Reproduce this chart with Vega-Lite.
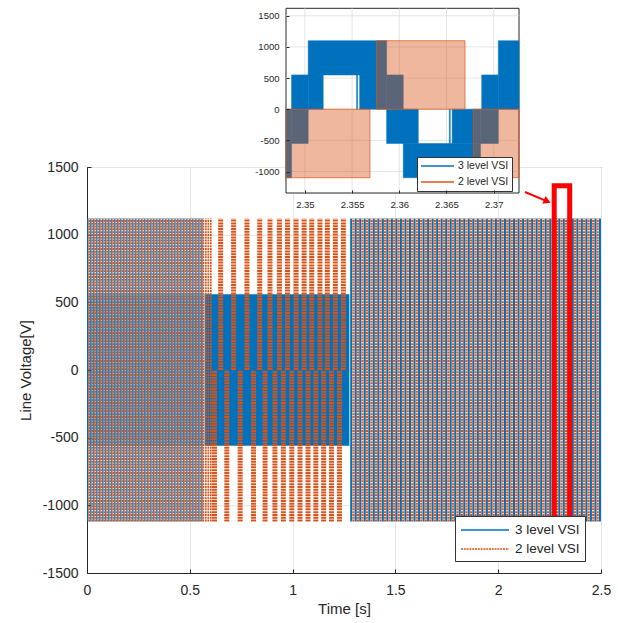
{
  "$schema": "https://vega.github.io/schema/vega-lite/v6.json",
  "width": 514,
  "height": 406,
  "autosize": {"type": "none"},
  "padding": {"left": 87, "top": 167, "right": 17, "bottom": 50},
  "background": "white",
  "config": {
    "font": "Liberation Sans",
    "view": {"stroke": "#262626", "strokeWidth": 1},
    "axis": {"titleFontWeight": "normal", "labelColor": "#262626", "titleColor": "#262626", "domainColor": "#262626", "tickColor": "#262626", "labelOverlap": false, "labelFlush": false}
  },
  "datasets": {
    "aB": [{"t":0.004},{"t":0.0186},{"t":0.0332},{"t":0.0478},{"t":0.0624},{"t":0.077},{"t":0.0916},{"t":0.1062},{"t":0.1208},{"t":0.1354},{"t":0.15},{"t":0.1646},{"t":0.1792},{"t":0.1938},{"t":0.2084},{"t":0.223},{"t":0.2376},{"t":0.2522},{"t":0.2668},{"t":0.2814},{"t":0.296},{"t":0.3106},{"t":0.3252},{"t":0.3398},{"t":0.3544},{"t":0.369},{"t":0.3836},{"t":0.3982},{"t":0.4128},{"t":0.4274},{"t":0.442},{"t":0.4566},{"t":0.4712},{"t":0.4858},{"t":0.5004},{"t":0.515},{"t":0.5296},{"t":0.5442},{"t":0.5588}],
    "aO": [{"t":0.0113},{"t":0.0259},{"t":0.0405},{"t":0.0551},{"t":0.0697},{"t":0.0843},{"t":0.0989},{"t":0.1135},{"t":0.1281},{"t":0.1427},{"t":0.1573},{"t":0.1719},{"t":0.1865},{"t":0.2011},{"t":0.2157},{"t":0.2303},{"t":0.2449},{"t":0.2595},{"t":0.2741},{"t":0.2887},{"t":0.3033},{"t":0.3179},{"t":0.3325},{"t":0.3471},{"t":0.3617},{"t":0.3763},{"t":0.3909},{"t":0.4055},{"t":0.4201},{"t":0.4347},{"t":0.4493},{"t":0.4639},{"t":0.4785},{"t":0.4931},{"t":0.5077},{"t":0.5223},{"t":0.5369},{"t":0.5515},{"t":0.566},{"t":0.578},{"t":0.59},{"t":0.602}],
    "bandA": [{"t0":0.0,"t1":0.565,"lo":-560,"hi":560}],
    "band": [{"t0":0.572,"t1":1.276,"lo":-560,"hi":560}],
    "bO": [
      {"t":0.620,"lo":-1120,"hi":0},{"t":0.650,"lo":0,"hi":1120},{"t":0.680,"lo":-1120,"hi":0},{"t":0.713,"lo":0,"hi":1120},
      {"t":0.745,"lo":-1120,"hi":0},{"t":0.778,"lo":0,"hi":1120},{"t":0.810,"lo":-1120,"hi":0},{"t":0.840,"lo":0,"hi":1120},
      {"t":0.866,"lo":-1120,"hi":0},{"t":0.890,"lo":0,"hi":1120},{"t":0.914,"lo":-1120,"hi":0},{"t":0.936,"lo":0,"hi":1120},
      {"t":0.955,"lo":-1120,"hi":0},{"t":0.975,"lo":0,"hi":1120},{"t":0.996,"lo":-1120,"hi":0},{"t":1.017,"lo":0,"hi":1120},
      {"t":1.036,"lo":-1120,"hi":0},{"t":1.056,"lo":0,"hi":1120},{"t":1.075,"lo":-1120,"hi":0},{"t":1.093,"lo":0,"hi":1120},
      {"t":1.113,"lo":-1120,"hi":0},{"t":1.133,"lo":0,"hi":1120},{"t":1.151,"lo":-1120,"hi":0},{"t":1.169,"lo":0,"hi":1120},
      {"t":1.189,"lo":-1120,"hi":0},{"t":1.208,"lo":0,"hi":1120},{"t":1.228,"lo":-1120,"hi":0},{"t":1.247,"lo":0,"hi":1120}
    ],
    "cB": [{"t":1.285},{"t":1.307},{"t":1.329},{"t":1.351},{"t":1.373},{"t":1.395},{"t":1.417},{"t":1.439},{"t":1.461},{"t":1.483},{"t":1.505},{"t":1.527},{"t":1.549},{"t":1.571},{"t":1.593},{"t":1.615},{"t":1.637},{"t":1.659},{"t":1.681},{"t":1.703},{"t":1.725},{"t":1.747},{"t":1.769},{"t":1.791},{"t":1.813},{"t":1.835},{"t":1.857},{"t":1.879},{"t":1.901},{"t":1.923},{"t":1.945},{"t":1.967},{"t":1.989},{"t":2.011},{"t":2.033},{"t":2.055},{"t":2.077},{"t":2.099},{"t":2.121},{"t":2.143},{"t":2.165},{"t":2.187},{"t":2.209},{"t":2.231},{"t":2.253},{"t":2.275},{"t":2.297},{"t":2.319},{"t":2.341},{"t":2.363},{"t":2.385},{"t":2.407},{"t":2.429},{"t":2.451},{"t":2.473},{"t":2.495}],
    "cO": [{"t":1.296},{"t":1.318},{"t":1.34},{"t":1.362},{"t":1.384},{"t":1.406},{"t":1.428},{"t":1.45},{"t":1.472},{"t":1.494},{"t":1.516},{"t":1.538},{"t":1.56},{"t":1.582},{"t":1.604},{"t":1.626},{"t":1.648},{"t":1.67},{"t":1.692},{"t":1.714},{"t":1.736},{"t":1.758},{"t":1.78},{"t":1.802},{"t":1.824},{"t":1.846},{"t":1.868},{"t":1.89},{"t":1.912},{"t":1.934},{"t":1.956},{"t":1.978},{"t":2.0},{"t":2.022},{"t":2.044},{"t":2.066},{"t":2.088},{"t":2.11},{"t":2.132},{"t":2.154},{"t":2.176},{"t":2.198},{"t":2.22},{"t":2.242},{"t":2.264},{"t":2.286},{"t":2.308},{"t":2.33},{"t":2.352},{"t":2.374},{"t":2.396},{"t":2.418},{"t":2.44},{"t":2.462},{"t":2.484}],
    "box": [{"t0":2.2724,"t1":2.3478,"lo":-1385,"hi":1361}],
    "arrow": [{"t0":2.1304,"v0":1315,"t1":2.2388,"v1":1246}],
    "inB": [
      {"t0":2.3480,"t1":2.34859,"lo":-1100,"hi":0},
      {"t0":2.34859,"t1":2.35035,"lo":-550,"hi":0},
      {"t0":2.34859,"t1":2.35035,"lo":0,"hi":550},
      {"t0":2.35035,"t1":2.35866,"lo":550,"hi":1100},
      {"t0":2.35035,"t1":2.35194,"lo":0,"hi":550},
      {"t0":2.35548,"t1":2.35558,"lo":0,"hi":550},
      {"t0":2.3558,"t1":2.35866,"lo":0,"hi":550},
      {"t0":2.35866,"t1":2.36042,"lo":0,"hi":550},
      {"t0":2.35866,"t1":2.36201,"lo":-550,"hi":0},
      {"t0":2.36042,"t1":2.3686,"lo":-1100,"hi":-550},
      {"t0":2.3653,"t1":2.3654,"lo":-550,"hi":0},
      {"t0":2.3656,"t1":2.3686,"lo":-550,"hi":0},
      {"t0":2.3686,"t1":2.37049,"lo":-550,"hi":0},
      {"t0":2.36873,"t1":2.37049,"lo":0,"hi":550},
      {"t0":2.37049,"t1":2.37268,"lo":0,"hi":1100}
    ],
    "inO": [
      {"t0":2.3480,"t1":2.35689,"lo":-1100,"hi":0},
      {"t0":2.3576,"t1":2.36696,"lo":0,"hi":1100},
      {"t0":2.36784,"t1":2.37268,"lo":-1100,"hi":0}
    ],
    "gx": [{"g":2.35},{"g":2.355},{"g":2.36},{"g":2.365},{"g":2.37}],
    "gy": [{"g":-1000},{"g":-500},{"g":0},{"g":500},{"g":1000},{"g":1500}]
  },
  "layer": [
    {
      "layer": [
        {
          "data": {"name": "band"},
          "mark": {"type": "rect", "color": "#0072BD"},
          "encoding": {
            "x": {"field": "t0", "type": "quantitative", "scale": {"domain": [0, 2.5], "nice": false, "zero": false},
                  "axis": {"orient": "bottom", "title": "Time [s]", "values": [0, 0.5, 1, 1.5, 2, 2.5], "format": "~g", "grid": true, "gridColor": "#e6e6e6", "tickSize": -4, "labelPadding": 14, "labelFontSize": 14, "titleFontSize": 15, "titlePadding": 4}},
            "x2": {"field": "t1"},
            "y": {"field": "lo", "type": "quantitative", "scale": {"domain": [-1500, 1500], "nice": false, "zero": false},
                  "axis": {"orient": "left", "title": "Line Voltage[V]", "values": [-1500, -1000, -500, 0, 500, 1000, 1500], "labelExpr": "'' + datum.value", "grid": true, "gridColor": "#e6e6e6", "tickSize": -4, "labelPadding": 13, "labelFontSize": 14, "titleFontSize": 15, "titlePadding": 9}},
            "y2": {"field": "hi"}
          }
        },
        {
          "data": {"name": "bandA"},
          "mark": {"type": "rect", "color": "#0072BD", "opacity": 0.35},
          "encoding": {
            "x": {"field": "t0", "type": "quantitative"},
            "x2": {"field": "t1"},
            "y": {"field": "lo", "type": "quantitative"},
            "y2": {"field": "hi"}
          }
        },
        {
          "data": {"name": "aB"},
          "mark": {"type": "rule", "strokeWidth": 1.3},
          "encoding": {
            "x": {"field": "t", "type": "quantitative"},
            "y": {"datum": -1120, "type": "quantitative"},
            "y2": {"datum": 1120},
            "stroke": {"datum": "3 level VSI", "type": "nominal",
              "scale": {"domain": ["3 level VSI", "2 level VSI"], "range": ["#0072BD", "#D95319"]},
              "legend": {"orient": "none", "legendX": 368, "legendY": 349, "title": null, "symbolType": "M-1,0L5,0", "symbolSize": 256, "symbolStrokeWidth": 1.5, "labelOffset": 37, "labelFontSize": 13.5, "labelColor": "#262626", "padding": 5, "rowPadding": 3, "strokeColor": "#333333", "fillColor": "#ffffff", "cornerRadius": 0}},
            "strokeDash": {"datum": "3 level VSI", "type": "nominal",
              "scale": {"domain": ["3 level VSI", "2 level VSI"], "range": [[1, 0], [2, 0.8]]},
              "legend": {"orient": "none", "legendX": 368, "legendY": 349, "title": null, "symbolType": "M-1,0L5,0", "symbolSize": 256, "symbolStrokeWidth": 1.5, "labelOffset": 37, "labelFontSize": 13.5, "labelColor": "#262626", "padding": 5, "rowPadding": 3, "strokeColor": "#333333", "fillColor": "#ffffff", "cornerRadius": 0}}
          }
        },
        {
          "data": {"name": "cB"},
          "mark": {"type": "rule", "strokeWidth": 2},
          "encoding": {
            "x": {"field": "t", "type": "quantitative"},
            "y": {"datum": -1120, "type": "quantitative"},
            "y2": {"datum": 1120},
            "stroke": {"datum": "3 level VSI", "type": "nominal"},
            "strokeDash": {"datum": "3 level VSI", "type": "nominal"}
          }
        },
        {
          "data": {"name": "aO"},
          "mark": {"type": "rule", "strokeWidth": 1.7},
          "encoding": {
            "x": {"field": "t", "type": "quantitative"},
            "y": {"datum": -1120, "type": "quantitative"},
            "y2": {"datum": 1120},
            "stroke": {"datum": "2 level VSI", "type": "nominal"},
            "strokeDash": {"datum": "2 level VSI", "type": "nominal"}
          }
        },
        {
          "data": {"name": "bO"},
          "mark": {"type": "rule", "strokeWidth": 5},
          "encoding": {
            "x": {"field": "t", "type": "quantitative"},
            "y": {"field": "lo", "type": "quantitative"},
            "y2": {"field": "hi"},
            "stroke": {"datum": "2 level VSI", "type": "nominal"},
            "strokeDash": {"datum": "2 level VSI", "type": "nominal"}
          }
        },
        {
          "data": {"name": "cO"},
          "mark": {"type": "rule", "strokeWidth": 2.2},
          "encoding": {
            "x": {"field": "t", "type": "quantitative"},
            "y": {"datum": -1120, "type": "quantitative"},
            "y2": {"datum": 1120},
            "stroke": {"datum": "2 level VSI", "type": "nominal"},
            "strokeDash": {"datum": "2 level VSI", "type": "nominal"}
          }
        },
        {
          "data": {"name": "box"},
          "mark": {"type": "rect", "filled": false, "color": "#FF0000", "strokeWidth": 5},
          "encoding": {
            "x": {"field": "t0", "type": "quantitative"},
            "x2": {"field": "t1"},
            "y": {"field": "lo", "type": "quantitative"},
            "y2": {"field": "hi"}
          }
        },
        {
          "data": {"name": "arrow"},
          "mark": {"type": "rule", "color": "#FF0000", "strokeWidth": 2},
          "encoding": {
            "x": {"field": "t0", "type": "quantitative"},
            "x2": {"field": "t1"},
            "y": {"field": "v0", "type": "quantitative"},
            "y2": {"field": "v1"}
          }
        },
        {
          "data": {"name": "arrow"},
          "mark": {"type": "point", "shape": "triangle-right", "filled": true, "color": "#FF0000", "size": 70, "angle": 23, "opacity": 1},
          "encoding": {
            "x": {"field": "t1", "type": "quantitative"},
            "y": {"field": "v1", "type": "quantitative"}
          }
        }
      ]
    },
    {
      "layer": [
        {
          "data": {"values": [{}]},
          "mark": {"type": "rect", "fill": "#ffffff", "stroke": "#262626", "strokeWidth": 1},
          "encoding": {
            "x": {"datum": 2.348, "type": "quantitative", "scale": {"domain": [2.348, 2.37268], "range": [199, 432], "nice": false, "zero": false},
                  "axis": {"orient": "bottom", "offset": -380, "values": [2.35, 2.355, 2.36, 2.365, 2.37], "format": ".3~f", "title": null, "grid": false, "domain": false, "tickSize": -3, "labelPadding": 9, "labelFontSize": 9.5, "zindex": 1}},
            "x2": {"datum": 2.37268},
            "y": {"datum": -1345, "type": "quantitative", "scale": {"domain": [-1345, 1620], "range": [26, -158.7], "nice": false, "zero": false},
                  "axis": {"orient": "left", "offset": -199, "values": [-1000, -500, 0, 500, 1000, 1500], "labelExpr": "'' + datum.value", "title": null, "grid": false, "domain": false, "tickSize": -3, "labelPadding": 10, "labelFontSize": 9.5, "zindex": 1}},
            "y2": {"datum": 1620}
          }
        },
        {
          "data": {"name": "gx"},
          "mark": {"type": "rule", "color": "#dedede", "strokeWidth": 0.8},
          "encoding": {
            "x": {"field": "g", "type": "quantitative"},
            "y": {"datum": -1345, "type": "quantitative"},
            "y2": {"datum": 1620}
          }
        },
        {
          "data": {"name": "gy"},
          "mark": {"type": "rule", "color": "#dedede", "strokeWidth": 0.8},
          "encoding": {
            "y": {"field": "g", "type": "quantitative"},
            "x": {"datum": 2.348, "type": "quantitative"},
            "x2": {"datum": 2.37268}
          }
        },
        {
          "data": {"name": "inB"},
          "mark": {"type": "rect", "fill": "#0072BD", "strokeWidth": 0.5},
          "encoding": {
            "x": {"field": "t0", "type": "quantitative"},
            "x2": {"field": "t1"},
            "y": {"field": "lo", "type": "quantitative"},
            "y2": {"field": "hi"},
            "stroke": {"datum": "3 level VSI", "type": "nominal",
              "scale": {"domain": ["3 level VSI", "2 level VSI"], "range": ["#0072BD", "#D95319"]},
              "legend": {"orient": "none", "legendX": 330, "legendY": -10, "title": null, "symbolType": "M-1,0L5.6,0", "symbolSize": 100, "symbolStrokeWidth": 1.5, "labelOffset": 26, "labelFontSize": 10.5, "labelColor": "#262626", "padding": 3, "rowPadding": 4, "strokeColor": "#333333", "fillColor": "#ffffff", "cornerRadius": 0}},
            "strokeDash": {"datum": "3 level VSI", "type": "nominal",
              "scale": {"domain": ["3 level VSI", "2 level VSI"], "range": [[1, 0], [1.5, 1]]},
              "legend": {"orient": "none", "legendX": 330, "legendY": -10, "title": null, "symbolType": "M-1,0L5.6,0", "symbolSize": 100, "symbolStrokeWidth": 1.5, "labelOffset": 26, "labelFontSize": 10.5, "labelColor": "#262626", "padding": 3, "rowPadding": 4, "strokeColor": "#333333", "fillColor": "#ffffff", "cornerRadius": 0}}
          }
        },
        {
          "data": {"name": "inO"},
          "mark": {"type": "rect", "fill": "#D95319", "fillOpacity": 0.42, "strokeWidth": 0.7},
          "encoding": {
            "x": {"field": "t0", "type": "quantitative"},
            "x2": {"field": "t1"},
            "y": {"field": "lo", "type": "quantitative"},
            "y2": {"field": "hi"},
            "stroke": {"datum": "2 level VSI", "type": "nominal"},
            "strokeDash": {"datum": "2 level VSI", "type": "nominal"}
          }
        }
      ]
    }
  ],
  "resolve": {
    "scale": {"x": "independent", "y": "independent", "stroke": "independent", "strokeDash": "independent"},
    "axis": {"x": "independent", "y": "independent"},
    "legend": {"stroke": "independent", "strokeDash": "independent"}
  }
}
